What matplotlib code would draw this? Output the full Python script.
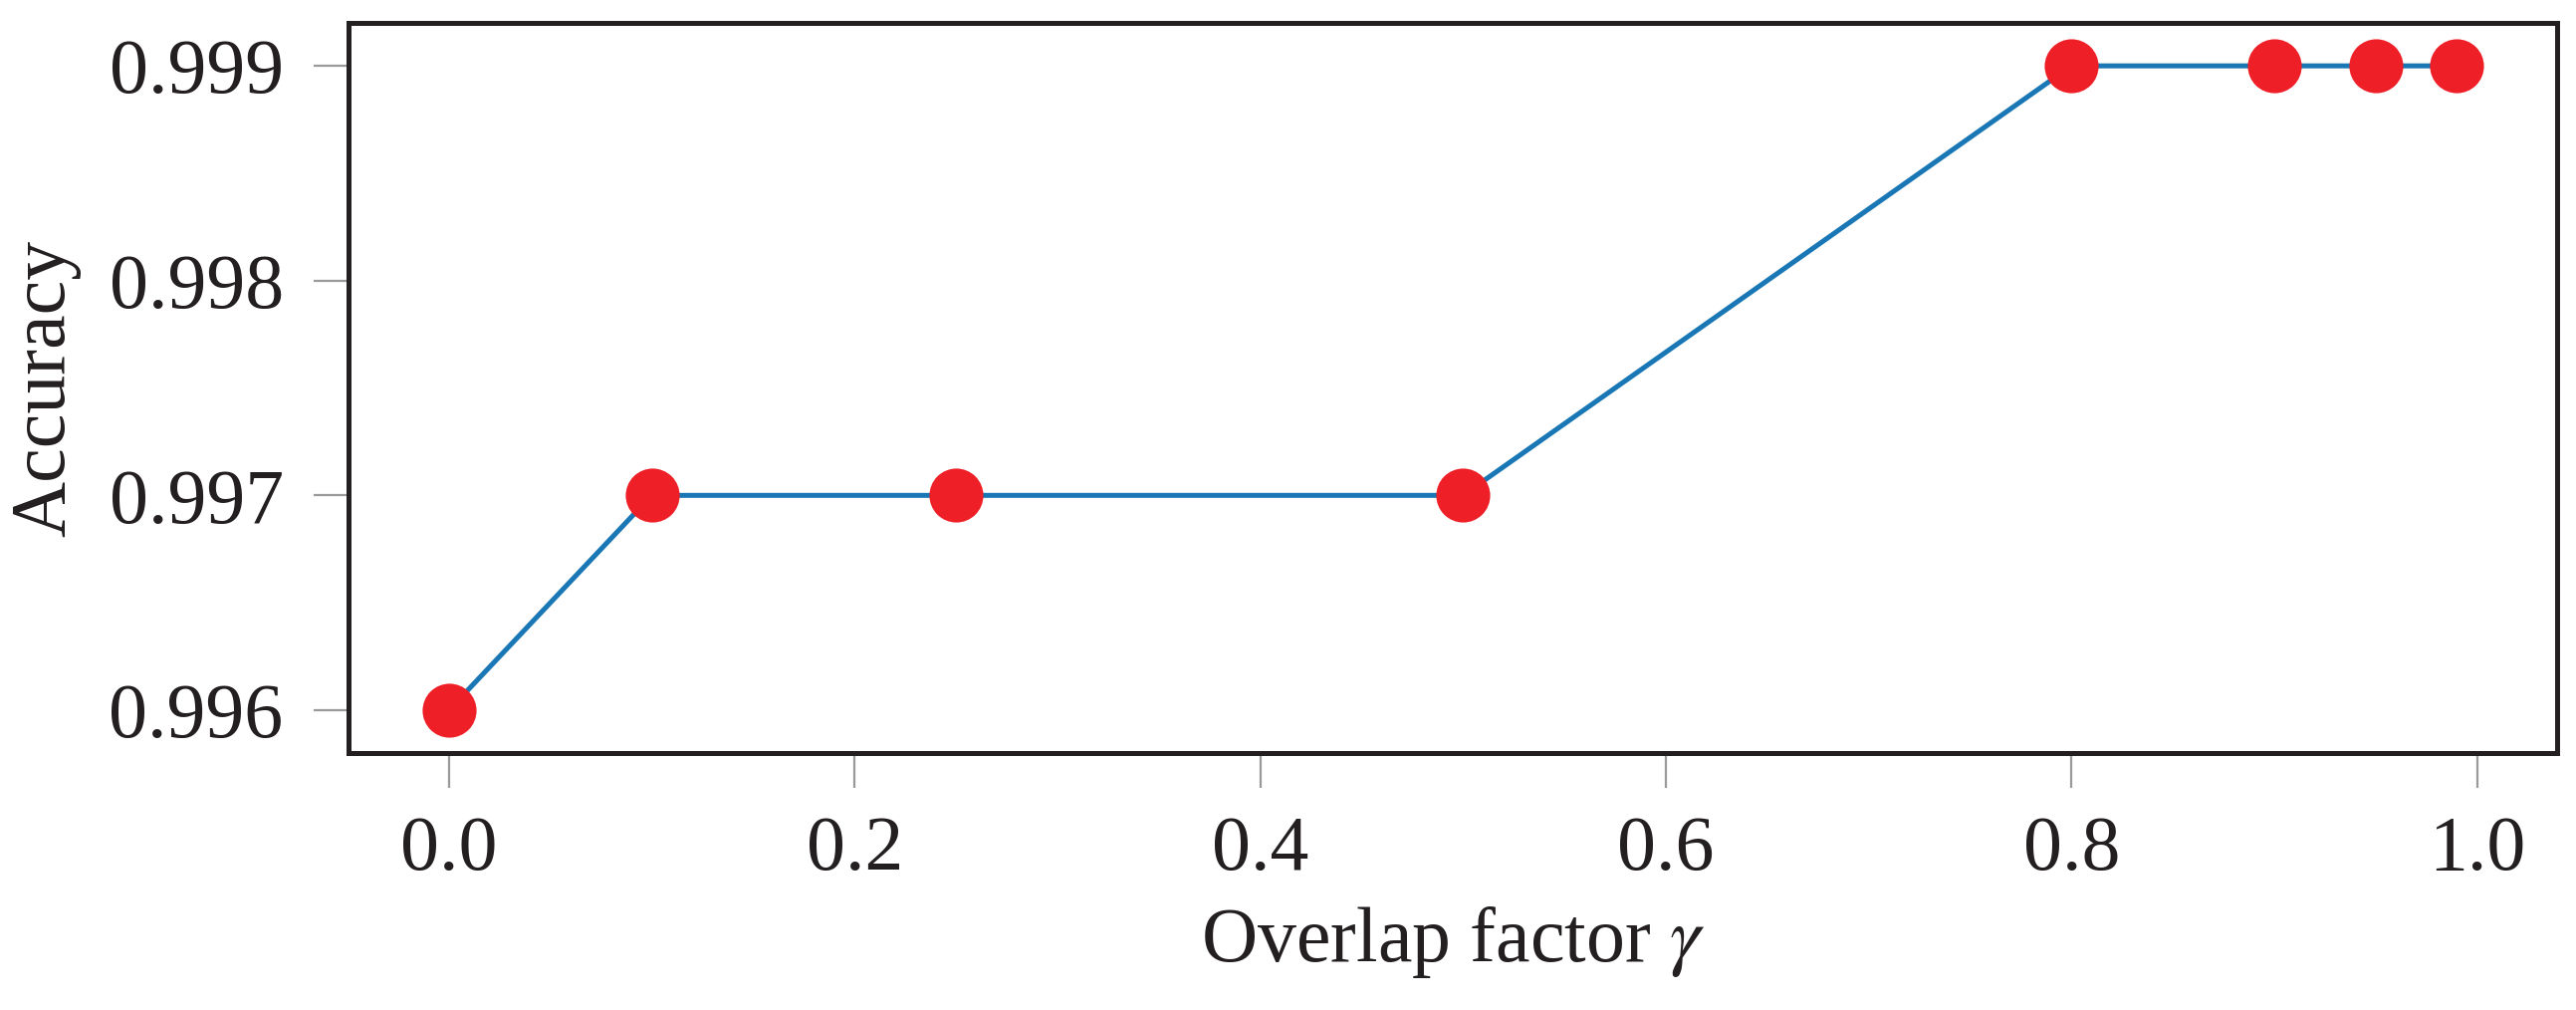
import matplotlib
matplotlib.use("Agg")
import matplotlib.pyplot as plt

# datos
overlap = [0.0, 0.1, 0.25, 0.5, 0.8, 0.9, 0.95, 0.99]
accuracy = [0.996, 0.997, 0.997, 0.997, 0.999, 0.999, 0.999, 0.999]
xticks = [0.0, 0.2, 0.4, 0.6, 0.8, 1.0]
yticks = [0.996, 0.997, 0.998, 0.999]

plt.rcParams['font.family'] = ['Liberation Serif', 'DejaVu Serif']
plt.rcParams['mathtext.fontset'] = 'stix'

fig = plt.figure(figsize=(12.935, 5.07), dpi=200)
ax = fig.add_axes([0.1353, 0.2544, 0.8574, 0.7229])

ax.plot(overlap, accuracy, color="#1a77b5", linewidth=1.8, zorder=2)
ax.plot(overlap, accuracy, linestyle="none", marker="o", markersize=19.5,
        markerfacecolor="#ee1f26", markeredgewidth=0, zorder=3)

ax.set_xlim(-0.0495, 1.0395)
ax.set_ylim(0.9958, 0.99920)
ax.set_xticks(xticks)
ax.set_xticklabels([f"{t:.1f}" for t in xticks])
ax.set_yticks(yticks)
ax.set_yticklabels([f"{t:.3f}" for t in yticks])

ax.tick_params(axis="both", direction="out", length=12.5, width=0.8,
               color="#9a9a9a", labelsize=28, labelcolor="#231f20")
ax.tick_params(axis="y", pad=11)
ax.tick_params(axis="x", pad=10)

for s in ax.spines.values():
    s.set_linewidth(1.8)
    s.set_color("#231f20")

ax.set_xlabel(r"Overlap factor $\gamma$", fontsize=28, color="#231f20", labelpad=6)
ax.set_ylabel("Accuracy", fontsize=28, color="#231f20", labelpad=10)

fig.savefig("out.png", dpi=200, facecolor="white")
